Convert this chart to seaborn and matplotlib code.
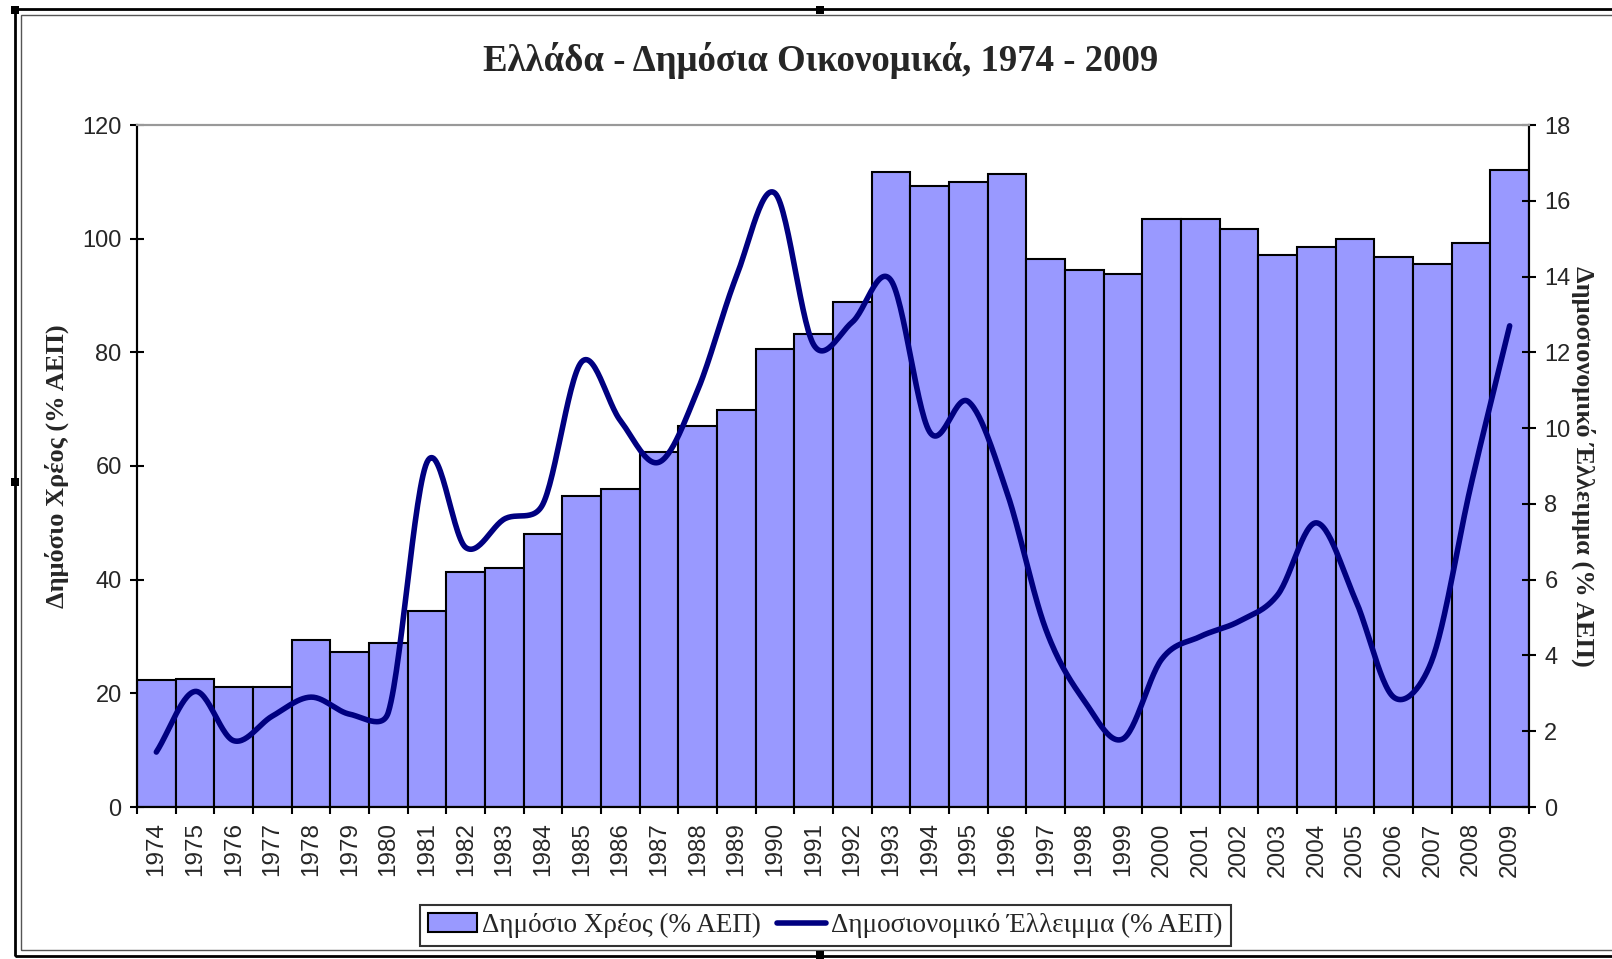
import numpy as np
import pandas as pd
import matplotlib
matplotlib.use('Agg')
import matplotlib.pyplot as plt
import seaborn as sns
from matplotlib.patches import Patch, Rectangle
from matplotlib.lines import Line2D

# data
years = list(range(1974, 2010))
debt = [22.3, 22.6, 21.2, 21.2, 29.3, 27.2, 28.9, 34.4, 41.3, 42.1,
        48.0, 54.8, 55.9, 62.5, 67.0, 69.9, 80.5, 83.2, 88.9, 111.7,
        109.3, 109.9, 111.4, 96.5, 94.4, 93.7, 103.4, 103.4, 101.7, 97.1,
        98.5, 100.0, 96.8, 95.5, 99.2, 112.1]
deficit = [1.45, 3.05, 1.75, 2.4, 2.9, 2.45, 2.5, 9.1, 6.85, 7.6,
           8.0, 11.75, 10.2, 9.1, 11.0, 14.0, 16.2, 12.2, 12.8, 13.9,
           9.9, 10.7, 8.3, 4.7, 2.8, 1.8, 3.9, 4.5, 4.9, 5.6,
           7.5, 5.5, 2.9, 3.9, 8.5, 12.7]

debt_label = 'Δημόσιο Χρέος (% ΑΕΠ)'
deficit_label = 'Δημοσιονομικό Έλλειμμα (% ΑΕΠ)'
title = 'Ελλάδα - Δημόσια Οικονομικά, 1974 - 2009'

bar_color = '#9999FF'
line_color = '#000080'
serif = 'Liberation Serif'
sans = 'Liberation Sans'


def excel_smooth(y, sx=38.67, sy=37.89, steps=30):
    # Excel-style smoothed line: Bezier segments, control arms capped at half a segment
    pts = np.column_stack([np.arange(len(y)) * sx, np.asarray(y, float) * sy])
    out = [pts[0]]
    t = np.linspace(0, 1, steps)[1:, None]
    n = len(pts)
    for i in range(n - 1):
        p0 = pts[max(i - 1, 0)]
        p1, p2 = pts[i], pts[i + 1]
        p3 = pts[min(i + 2, n - 1)]
        d12 = np.hypot(*(p2 - p1))
        d02 = np.hypot(*(p2 - p0))
        d13 = np.hypot(*(p3 - p1))
        f = 1 / 6 if i > 0 else 1 / 3
        g = 1 / 6 if i < n - 2 else 1 / 3
        if d02 * f > d12 / 2:
            f = d12 / (2 * d02)
        if d13 * g > d12 / 2:
            g = d12 / (2 * d13)
        c1 = p1 + (p2 - p0) * f
        c2 = p2 - (p3 - p1) * g
        seg = ((1 - t) ** 3) * p1 + 3 * ((1 - t) ** 2) * t * c1 + 3 * (1 - t) * t ** 2 * c2 + t ** 3 * p2
        out.extend(seg)
    out = np.array(out)
    return out[:, 0] / sx, out[:, 1] / sy


sns.set_theme(style='white')
plt.rcParams['font.family'] = [sans, 'DejaVu Sans']

fig = plt.figure(figsize=(16.12, 9.59), dpi=100)
ax = fig.add_axes([137 / 1612, 1 - 807 / 959, 1392 / 1612, 682 / 959])

df = pd.DataFrame({'year': [str(y) for y in years], 'debt': debt})
sns.barplot(data=df, x='year', y='debt', color=bar_color, saturation=1,
            edgecolor='black', linewidth=1.5, width=1.0, ax=ax)

ax.set_xlim(-0.5, len(years) - 0.5)
ax.set_ylim(0, 120)
ax.set_yticks(range(0, 121, 20))
ax.set_xticks(np.arange(len(years)))
ax.set_xticklabels([str(y) for y in years], rotation=90, fontsize=17.5, family=sans)
ax.set_xticks(np.arange(len(years) + 1) - 0.5, minor=True)
ax.tick_params(axis='x', which='major', length=0, pad=11)
ax.tick_params(axis='x', which='minor', direction='out', length=5, width=1.5, color='black', bottom=True)
ax.tick_params(axis='y', direction='inout', length=10, width=1.5, color='black', left=True,
               labelsize=17, pad=6)
ax.set_xlabel('')
ax.set_ylabel(debt_label, family=serif, fontweight='bold', fontsize=19, va='center')
ax.yaxis.set_label_coords(-0.0578, 0.5)

ax2 = ax.twinx()
lx, ly = excel_smooth(deficit)
sns.lineplot(x=lx, y=ly, sort=False, color=line_color, linewidth=4, ax=ax2)
ax2.set_ylim(0, 18)
ax2.set_yticks(range(0, 19, 2))
ax2.tick_params(axis='y', direction='inout', length=10, width=1.5, color='black', right=True,
                labelsize=17, pad=6)
ax2.set_ylabel(deficit_label, family=serif, fontweight='bold', fontsize=19, rotation=270, va='center')
ax2.yaxis.set_label_coords(1.039, 0.5)

for a in (ax, ax2):
    for side in ('left', 'right', 'bottom'):
        a.spines[side].set_color('black')
        a.spines[side].set_linewidth(1.5)
    a.spines['top'].set_color('#999999')
    a.spines['top'].set_linewidth(1.5)
    a.grid(False)

fig.text(0.509, 0.937, title, ha='center', va='center', family=serif,
         fontweight='bold', fontsize=26.5)

handles = [Patch(facecolor=bar_color, edgecolor='black', linewidth=1.5),
           Line2D([0], [0], color=line_color, linewidth=4)]
leg = fig.legend(handles, [debt_label, deficit_label], loc='center',
                 bbox_to_anchor=(0.512, 0.035), ncol=2, frameon=True, fancybox=False,
                 prop={'family': serif, 'size': 19.5}, handlelength=1.8, handletextpad=0.2,
                 columnspacing=0.6, borderpad=0.3, borderaxespad=0)
leg.get_frame().set_edgecolor('black')
leg.get_frame().set_linewidth(1.5)

# chart-area border with selection handles
W, H = 1612, 959
fig.add_artist(Rectangle((15 / W, 1 - 956 / H), 1.2, (956 - 9) / H, transform=fig.transFigure,
                         fill=False, edgecolor='black', linewidth=2))
fig.add_artist(Rectangle((21 / W, 1 - 950 / H), 1.2, (950 - 15) / H, transform=fig.transFigure,
                         fill=False, edgecolor='#555555', linewidth=1))
for hx, hy in [(15, 10), (820, 10), (15, 482), (820, 955)]:
    fig.add_artist(Rectangle(((hx - 4) / W, 1 - (hy + 4) / H), 8 / W, 8 / H,
                             transform=fig.transFigure, facecolor='black', edgecolor='none'))

fig.savefig('out.png', dpi=100)
